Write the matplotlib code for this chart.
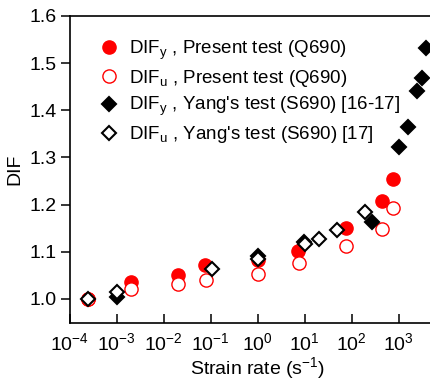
import matplotlib
matplotlib.use("Agg")
import matplotlib.pyplot as plt

plt.rcParams['font.family'] = ['Liberation Sans', 'DejaVu Sans']
plt.rcParams['mathtext.fontset'] = 'custom'
plt.rcParams['mathtext.rm'] = 'Liberation Sans'
plt.rcParams['mathtext.it'] = 'Liberation Sans:italic'
plt.rcParams['mathtext.bf'] = 'Liberation Sans:bold'

# Present test (Q690)
present_y_rate = [2.5e-4, 2.05e-3, 0.02, 0.078, 1.0, 7.4, 77, 447, 760]
present_y_dif = [1.000, 1.035, 1.051, 1.071, 1.082, 1.101, 1.151, 1.208, 1.254]
present_u_rate = [2.5e-4, 2.0e-3, 0.02, 0.08, 1.0, 7.6, 75, 447, 760]
present_u_dif = [1.000, 1.022, 1.031, 1.040, 1.052, 1.077, 1.112, 1.149, 1.193]

# Yang's test (S690)
yang_y_rate = [1.0e-3, 1.0, 9.6, 270, 1050, 1590, 2460, 3160, 3890]
yang_y_dif = [1.004, 1.091, 1.121, 1.163, 1.322, 1.364, 1.442, 1.469, 1.533]
yang_u_rate = [2.5e-4, 1.0e-3, 0.107, 1.0, 10.2, 19.9, 49, 195]
yang_u_dif = [1.000, 1.014, 1.063, 1.085, 1.116, 1.128, 1.147, 1.184]

xticks = [1e-4, 1e-3, 1e-2, 1e-1, 1e0, 1e1, 1e2, 1e3]
yticks = [1.0, 1.1, 1.2, 1.3, 1.4, 1.5, 1.6]

fig = plt.figure(figsize=(4.3, 3.8), dpi=100)
ax = fig.add_axes([69.5/430, 1 - 322.5/380, 376/430, (322.5 - 16)/380])

red = '#ff0000'
ax.plot(present_y_rate, present_y_dif, 'o', ms=9.5, color=red, mec=red, ls='none',
        label=r'DIF$_{\rm y}$ , Present test (Q690)', zorder=3)
ax.plot(present_u_rate, present_u_dif, 'o', ms=9.5, mfc='white', mec=red, mew=1.0, ls='none',
        label=r'DIF$_{\rm u}$ , Present test (Q690)', zorder=3)
ax.plot(yang_y_rate, yang_y_dif, 'D', ms=7.5, color='black', mec='black', mew=1.5, ls='none',
        label=r"DIF$_{\rm y}$ , Yang's test (S690) [16-17]", zorder=4)
ax.plot(yang_u_rate, yang_u_dif, 'D', ms=7.5, mfc='white', mec='black', mew=1.5, ls='none',
        label=r"DIF$_{\rm u}$ , Yang's test (S690) [17]", zorder=5)

ax.set_xscale('log')
ax.set_xlim(1e-4, 1e4)
ax.set_ylim(0.95, 1.6)
ax.set_xticks(xticks)
ax.set_yticks(yticks)
ax.set_yticklabels([f'{v:.1f}' for v in yticks])
ax.minorticks_off()
ax.tick_params(axis='x', direction='in', length=6.5, width=1.1, labelsize=14, pad=7)
ax.tick_params(axis='y', direction='out', length=6.5, width=1.1, labelsize=14, pad=3)
for s in ax.spines.values():
    s.set_linewidth(1.2)

ax.set_xlabel(r'Strain rate (s$^{-1}$)', fontsize=14, labelpad=0.5)
ax.set_ylabel('DIF', fontsize=14, labelpad=4)

leg = ax.legend(loc='upper left', bbox_to_anchor=(0.06, 0.95), frameon=False,
                fontsize=13.5, handletextpad=0.55, labelspacing=0.32, borderaxespad=0,
                handlelength=1.0)

fig.savefig('out.png', dpi=100)
